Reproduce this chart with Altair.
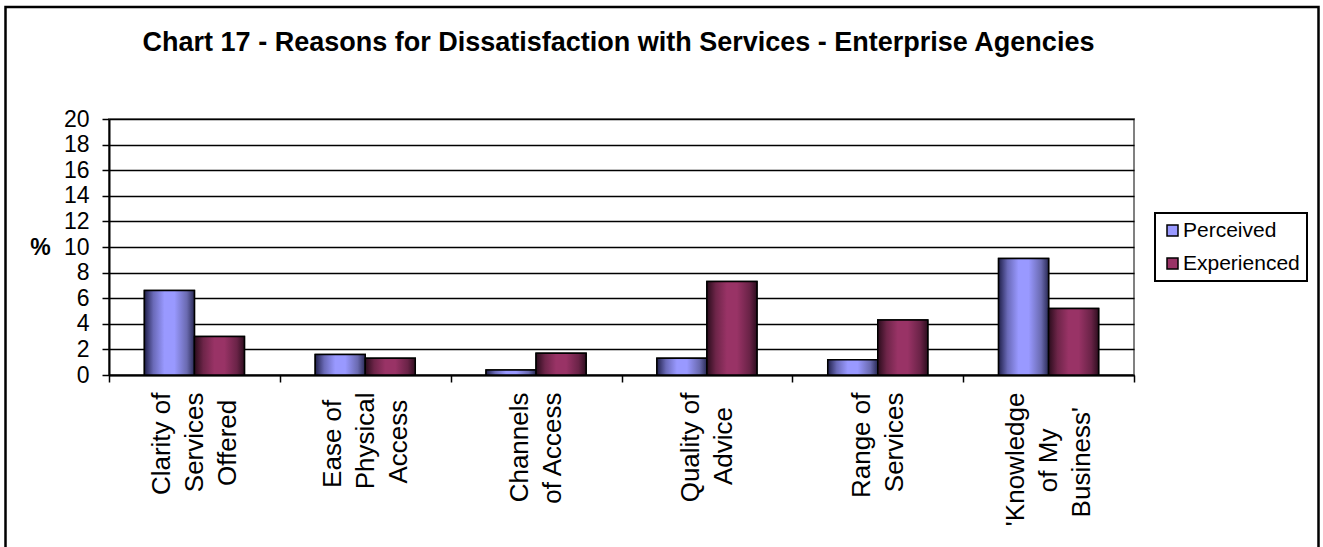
import altair as alt
import pandas as pd

categories = ["Clarity of|Services|Offered", "Ease of|Physical|Access", "Channels|of Access",
              "Quality of|Advice", "Range of|Services", "'Knowledge|of My|Business'"]
series = ["Perceived", "Experienced"]
perceived = [6.6, 1.6, 0.4, 1.3, 1.2, 9.1]
experienced = [3.0, 1.3, 1.7, 7.3, 4.3, 5.2]
y_ticks = [0, 2, 4, 6, 8, 10, 12, 14, 16, 18, 20]
colors = ["#9999FF", "#993366"]
title_text = "Chart 17 - Reasons for Dissatisfaction with Services - Enterprise Agencies"

rows = []
for c, p, e in zip(categories, perceived, experienced):
    rows.append({"category": c, "series": "Perceived", "value": p})
    rows.append({"category": c, "series": "Experienced", "value": e})
df = pd.DataFrame(rows)

FONT = "Liberation Sans"
W, H = 1025, 256
LH = 33
NB = "\u00a0"
ZW = "\u200b"  # keeps the trailing no-break spaces from being trimmed

# visually centre the shorter wrapped lines (Excel centres each line of a wrapped label)
pads = [("|Offered", 1), ("Ease of|", 1), ("|Access", 1), ("|Advice", 2),
        ("|of My|", 5), ("|Business'", 2)]
expr = "datum.label"
for pat, n in pads:
    if pat.endswith("|"):
        rep = pat[:-1] + NB * n + ZW + "|"
    else:
        rep = pat + NB * n + ZW
    expr = f"replace({expr}, \"{pat}\", \"{rep}\")"
label_expr = f"split({expr}, '|')"

x_enc = alt.X("category:N", sort=categories,
              scale=alt.Scale(paddingInner=0, paddingOuter=0),
              axis=alt.Axis(title=None, labelAngle=-90, labelAlign="right", labelBaseline="middle",
                            labelExpr=label_expr, tickBand="extent",
                            labelOffset={"condition": {"test": "length(split(datum.value, '|')) == 3",
                                                       "value": -LH},
                                         "value": -LH / 2},
                            labelFont=FONT, labelFontSize=26, labelColor="black",
                            labelLineHeight=LH, labelPadding=10, tickSize=7,
                            tickColor="black", tickWidth=1.5, domainColor="black",
                            domainWidth=2, grid=False, labelLimit=400))
y_enc = alt.Y("value:Q", scale=alt.Scale(domain=[0, 20], nice=False),
              axis=alt.Axis(values=y_ticks, title="%", titleAngle=0, titleX=-69, titleY=128,
                            titleAlign="center", titleBaseline="middle", titleFont=FONT,
                            titleFontSize=23, titleFontWeight="bold", titleColor="black",
                            labelFont=FONT, labelFontSize=23, labelColor="black",
                            labelPadding=13, tickSize=7, tickColor="black", tickWidth=1.5,
                            domainColor="black", domainWidth=2, grid=True,
                            gridColor="black", gridWidth=1.7))
xoff = alt.XOffset("series:N", sort=series,
                   scale=alt.Scale(domain=series, paddingInner=0, paddingOuter=0.708))

grad_p = alt.Gradient(gradient="linear", x1=0, x2=1, y1=0, y2=0, stops=[
    alt.GradientStop(color="#20204a", offset=0),
    alt.GradientStop(color="#6a6ab8", offset=0.18),
    alt.GradientStop(color="#9999FF", offset=0.4),
    alt.GradientStop(color="#9999FF", offset=0.6),
    alt.GradientStop(color="#6a6ab0", offset=0.85),
    alt.GradientStop(color="#2a2a55", offset=1)])
grad_e = alt.Gradient(gradient="linear", x1=0, x2=1, y1=0, y2=0, stops=[
    alt.GradientStop(color="#2a0c1c", offset=0),
    alt.GradientStop(color="#6e2549", offset=0.18),
    alt.GradientStop(color="#993366", offset=0.4),
    alt.GradientStop(color="#993366", offset=0.6),
    alt.GradientStop(color="#6a2347", offset=0.85),
    alt.GradientStop(color="#2e0e1f", offset=1)])

base = alt.Chart(df).mark_bar(stroke="black", strokeWidth=1.5).encode(
    x=x_enc, y=y_enc, xOffset=xoff,
    color=alt.Color("series:N", sort=series,
                    scale=alt.Scale(domain=series, range=colors),
                    legend=alt.Legend(title=None, orient="none", legendX=1046, legendY=94,
                                      symbolType="square", symbolSize=121,
                                      symbolStrokeColor="black", symbolStrokeWidth=1.5,
                                      labelFont=FONT, labelFontSize=21, labelColor="black",
                                      labelOffset=0, padding=7, rowPadding=11,
                                      strokeColor="black", fillColor="white")))

layer_p = alt.Chart(df).transform_filter(alt.datum.series == "Perceived").mark_bar(
    fill=grad_p, stroke="black", strokeWidth=1.5).encode(x=x_enc, y=y_enc, xOffset=xoff)
layer_e = alt.Chart(df).transform_filter(alt.datum.series == "Experienced").mark_bar(
    fill=grad_e, stroke="black", strokeWidth=1.5).encode(x=x_enc, y=y_enc, xOffset=xoff)

frame = alt.Chart(alt.Data(values=[{}])).mark_rect(
    fill=None, stroke="black", strokeWidth=2.5).encode(
    x=alt.value(-103.5), x2=alt.value(1209.5), y=alt.value(-112), y2=alt.value(460))

title = alt.Chart(alt.Data(values=[{}])).mark_text(
    font=FONT, fontSize=27, fontWeight="bold", color="black",
    align="center", baseline="alphabetic").encode(
    x=alt.value(W / 2 - 3), y=alt.value(-68), text=alt.value(title_text))

chart = alt.layer(frame, title, base, layer_p, layer_e).properties(
    width=W, height=H,
    autosize=alt.AutoSizeParams(type="none"),
    padding={"left": 109, "top": 119, "right": 189, "bottom": 172},
).configure_view(stroke="#808080", strokeWidth=2).configure_legend(strokeWidth=2)

chart.save("out.html", embed_options={"renderer": "svg", "actions": False})
